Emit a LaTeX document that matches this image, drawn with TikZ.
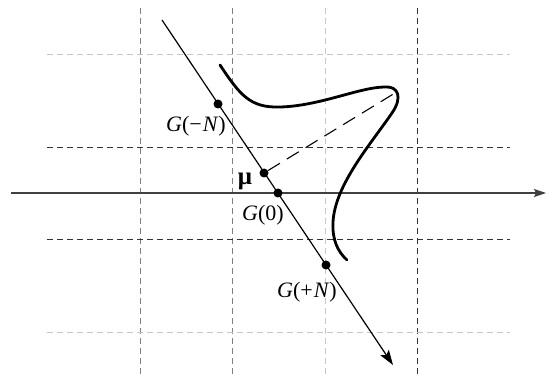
\documentclass[tikz,border=0pt]{standalone}
\usepackage{fontspec}
\setmainfont{Liberation Serif}
\usetikzlibrary{arrows.meta}
\begin{document}
\begin{tikzpicture}[x=1pt,y=-1pt,
  gridlight/.style={draw=black!22,line width=0.9pt,dash pattern=on 6pt off 4pt},
  gridmid/.style={draw=black!50,line width=0.9pt,dash pattern=on 6pt off 4pt},
  griddark/.style={draw=black!80,line width=0.9pt,dash pattern=on 6pt off 4pt},
  dot/.style={circle,fill=black,inner sep=0pt,minimum size=9pt},
  lbl/.style={font=\fontsize{22}{24}\selectfont,inner sep=0pt},
  curvestyle/.style={line width=2.8pt,line cap=round}]
\useasboundingbox (0,0) rectangle (546,374);
% vertical grid lines
\draw[gridmid] (140,8) -- (140,374);
\draw[gridmid] (232,8) -- (232,374);
\draw[gridlight] (325,8) -- (325,374);
\draw[griddark] (417,8) -- (417,374);
% horizontal grid lines
\draw[gridlight] (47,54) -- (510,54);
\draw[griddark] (47,147) -- (510,147);
\draw[griddark] (47,239) -- (510,239);
\draw[gridlight] (47,332) -- (510,332);
% axis
\coordinate (axl) at (11,193);
\coordinate (axr) at (546,193);
\draw[black!75,line width=1.2pt,-{Stealth[length=12pt,width=8pt,inset=2pt]}] (axl) -- (axr);
% curve
\draw[curvestyle] (220,65) .. controls (240,95) and (250,108) .. (280,107)
  .. controls (320,106) and (360,87) .. (385,87)
  .. controls (398,86) and (403,97) .. (392,113)
  .. controls (370,145) and (335,185) .. (333,222)
  .. controls (332,240) and (338,252) .. (347,260);
\coordinate (tip) at (395,93);
% diagonal line
\coordinate (ds) at (162,20);
\coordinate (de) at (393,365);
\draw[line width=1.2pt,-{Stealth[length=15pt,width=10pt,inset=3pt]}] (ds) -- (de);
% dots
\node[dot] (gm) at (218,104) {};
\node[dot] (mu) at (264,173) {};
\node[dot] (g0) at (278,193) {};
\node[dot] (gp) at (326,265) {};
% dashed line
\draw[line width=1.1pt,dash pattern=on 14pt off 8pt] (mu) -- (tip);
% labels
\node[lbl] (lgm) at (196,126) {\textit{G}(−\kern1pt\textit{N})};
\node[lbl] (lg0) at (263,215) {\textit{G}(0)};
\node[lbl] (lgp) at (307,292) {\textit{G}(+\kern1pt\textit{N})};
\node[lbl,font=\fontsize{25}{27}\selectfont\bfseries] (lmu) at (245,181) {μ};
\end{tikzpicture}
\end{document}
